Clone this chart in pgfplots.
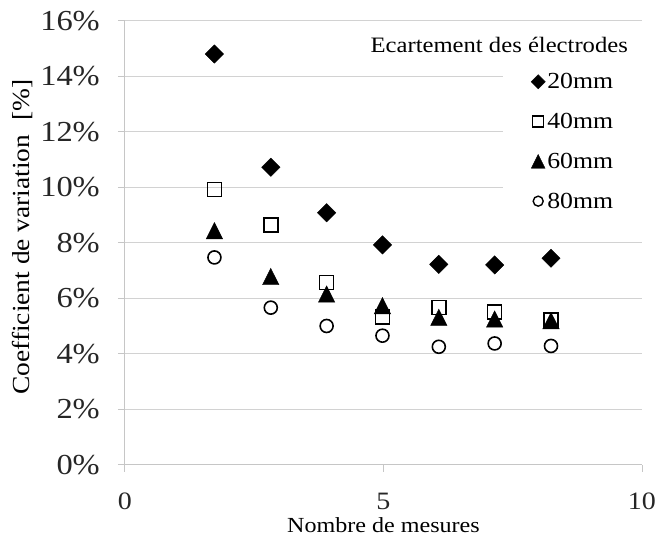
\documentclass[border=0pt]{standalone}
\usepackage{fontspec}
\setmainfont[FakeStretch=1.12]{Liberation Serif}
\usepackage{pgfplots}
\usepackage{pgfplotstable}
\pgfplotsset{compat=1.18}

\pgfplotstableread{
x y
1.73 14.81
2.82 10.73
3.90 9.09
4.98 7.93
6.07 7.23
7.15 7.21
8.24 7.45
}\dataA
\pgfplotstableread{
x y
1.73 9.93
2.82 8.65
3.90 6.57
4.98 5.34
6.07 5.67
7.15 5.52
8.24 5.23
}\dataB
\pgfplotstableread{
x y
1.73 8.45
2.82 6.80
3.90 6.17
4.98 5.75
6.07 5.33
7.15 5.27
8.24 5.21
}\dataC
\pgfplotstableread{
x y
1.73 7.48
2.82 5.67
3.90 5.01
4.98 4.66
6.07 4.26
7.15 4.38
8.24 4.29
}\dataD

\begin{document}
\begin{tikzpicture}
\useasboundingbox (-125pt,-75pt) rectangle (532pt,465pt);
\begin{axis}[
  at={(0pt,0pt)}, anchor=south west,
  scale only axis, width=517pt, height=444pt,
  xmin=0, xmax=10, ymin=0, ymax=16,
  xtick={0,5,10}, ytick={0,2,...,16},
  axis lines=left,
  axis line style={-, gray!45, line width=1pt},
  tick align=outside,
  tick style={gray!45, line width=1pt},
  major tick length=7pt,
  ymajorgrids,
  grid style={gray!35, line width=1pt},
  /pgf/number format/assume math mode=true,
  yticklabel={\pgfmathprintnumber{\tick}\%},
  ticklabel style={text=black!85},
  yticklabel style={font=\fontsize{29}{33}\selectfont, inner sep=0pt, xshift=-18pt},
  xticklabel style={font=\fontsize{25}{30}\selectfont, inner sep=0pt, yshift=-21pt},
  xlabel={Nombre de mesures},
  ylabel={Coefficient de variation\ \ [\%]},
  xlabel style={font=\fontsize{21.5}{25}\selectfont, at={(axis description cs:0.5,0)}, anchor=center, yshift=-60pt},
  ylabel style={font=\fontsize{24.5}{28}\selectfont, at={(axis description cs:0,0.513)}, anchor=center, yshift=102pt},
  legend style={
    at={(rel axis cs:0.731,0.905)}, anchor=north west,
    fill=white, draw=none,
    inner xsep=28pt, inner ysep=8pt,
    font=\fontsize{23}{27}\selectfont,
    row sep=19pt,
    cells={anchor=west},
  },
  legend cell align=left,
]
\addlegendimage{only marks, mark=square*, mark options={rotate=45, fill=black, draw=black}, mark size=5pt}
\addlegendimage{only marks, mark=square, mark options={draw=black, line width=1.4pt}, mark size=5.5pt}
\addlegendimage{only marks, mark=triangle*, mark options={fill=black, draw=black, yscale=1.15, yshift=-2pt}, mark size=8pt}
\addlegendimage{only marks, mark=o, mark options={draw=black, line width=1.4pt}, mark size=5pt}
\legend{20mm,40mm,60mm,80mm}

\addplot[forget plot, only marks, mark=square*, mark options={rotate=45, fill=black, draw=black}, mark size=6.5pt] table[x=x,y=y] {\dataA};
\addplot[forget plot, only marks, mark=square, mark options={draw=black, line width=1.6pt}, mark size=7pt] table[x=x,y=y] {\dataB};
\addplot[forget plot, only marks, mark=triangle*, mark options={fill=black, draw=black, yscale=1.15, yshift=-2.6pt}, mark size=9.5pt] table[x=x,y=y] {\dataC};
\addplot[forget plot, only marks, mark=o, mark options={draw=black, line width=1.6pt}, mark size=6.5pt] table[x=x,y=y] {\dataD};

\node[anchor=base east, font=\fontsize{22}{26}\selectfont, inner sep=0pt] at (rel axis cs:0.973,0.928) {Ecartement des électrodes};
\end{axis}
\end{tikzpicture}
\end{document}
